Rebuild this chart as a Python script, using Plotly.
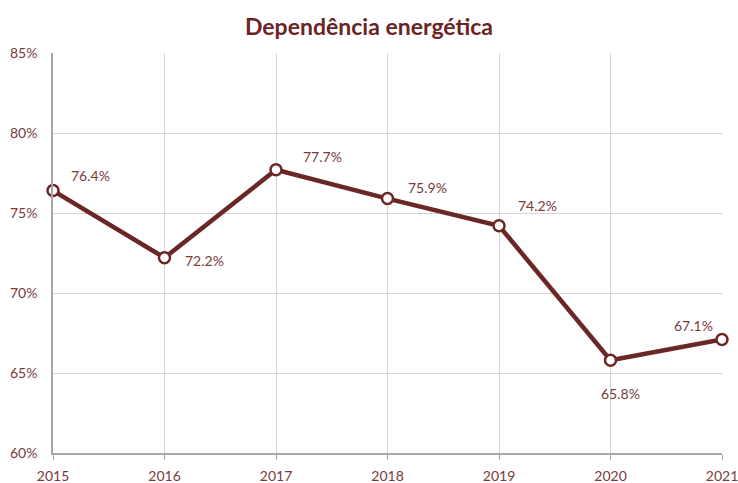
import plotly.graph_objects as go

years = [2015, 2016, 2017, 2018, 2019, 2020, 2021]
values = [76.4, 72.2, 77.7, 75.9, 74.2, 65.8, 67.1]
labels = ["76.4%", "72.2%", "77.7%", "75.9%", "74.2%", "65.8%", "67.1%"]
y_ticks = [60, 65, 70, 75, 80, 85]
y_ticktext = ["60%", "65%", "70%", "75%", "80%", "85%"]

# label offsets (pixels) relative to each point
label_shifts = [(37, 15), (40, -3), (46, 13), (40, 11), (38, 20), (10, -33), (-29, 14)]

line_color = "#6b2626"
text_color = "#7a3a3a"
font_family = "Lato, 'Open Sans', sans-serif"

fig = go.Figure()
fig.add_trace(go.Scatter(
    x=years, y=values, mode="lines+markers",
    line=dict(color=line_color, width=4.5),
    marker=dict(size=11, color="white", line=dict(color=line_color, width=2.5)),
    cliponaxis=False, hoverinfo="skip",
))

for xv, yv, t, (dx, dy) in zip(years, values, labels, label_shifts):
    fig.add_annotation(x=xv, y=yv, text=t, showarrow=False,
                       xshift=dx, yshift=dy,
                       font=dict(family=font_family, size=14, color=text_color))

fig.update_layout(
    width=738, height=483,
    margin=dict(l=53, r=16, t=53, b=30, autoexpand=False),
    paper_bgcolor="white", plot_bgcolor="white",
    showlegend=False,
    title=dict(text="<b>Dependência energética</b>", x=0.5, xanchor="center",
               y=1 - 27 / 483, yanchor="middle",
               font=dict(family=font_family, size=23, color="#6b2424")),
    font=dict(family=font_family, color=text_color),
)
fig.update_xaxes(
    range=[2015, 2021], tickvals=years, ticktext=[str(y) for y in years],
    showgrid=True, gridcolor="#d4d4d4", gridwidth=1,
    showline=True, linecolor="#a6a6a6", linewidth=1.5,
    ticks="outside", ticklen=5, tickcolor="#a6a6a6",
    ticklabelstandoff=4, automargin=False, ticklabeloverflow="allow",
    tickfont=dict(family=font_family, size=14, color=text_color),
    zeroline=False,
)
fig.update_yaxes(
    range=[60, 85], tickvals=y_ticks, ticktext=y_ticktext,
    showgrid=True, gridcolor="#d4d4d4", gridwidth=1,
    showline=True, linecolor="#a6a6a6", linewidth=1.5,
    ticks="", ticklabelstandoff=11, automargin=False, ticklabeloverflow="allow",
    tickfont=dict(family=font_family, size=14, color=text_color),
    zeroline=False,
)

fig.write_html("out.html", config={"displayModeBar": False},
               post_script="document.body.style.margin='0';document.body.style.overflow='hidden';")
